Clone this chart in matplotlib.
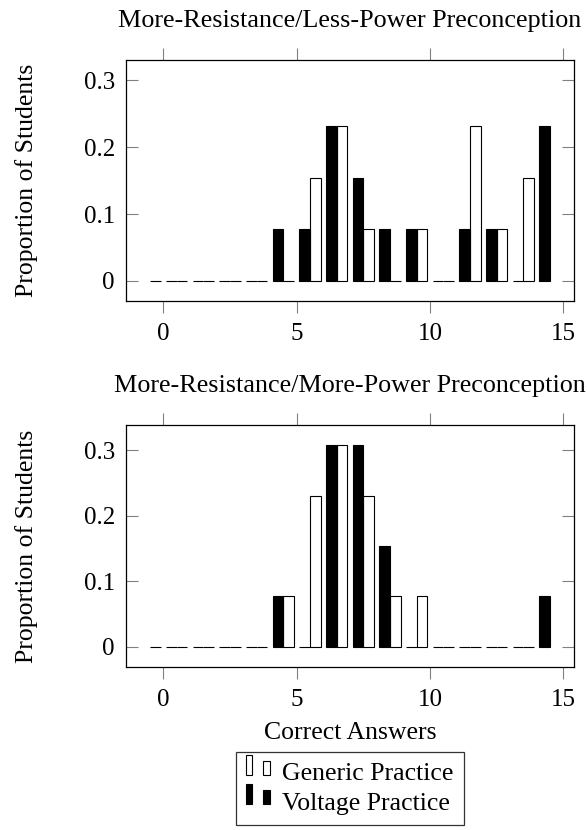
import numpy as np
import matplotlib
matplotlib.use('Agg')
import matplotlib.pyplot as plt
from matplotlib.patches import Rectangle
from matplotlib.legend_handler import HandlerBase

plt.rcParams['font.family'] = ['Liberation Serif', 'DejaVu Serif']

##### Datos (fraccion de estudiantes, n = 13)
answers = np.arange(15)
titles = ['More-Resistance/Less-Power Preconception',
          'More-Resistance/More-Power Preconception']
generic_less = np.array([0, 0, 0, 0, 0, 0, 2, 3, 1, 0, 1, 0, 3, 1, 2]) / 13
voltage_less = np.array([0, 0, 0, 0, 1, 1, 3, 2, 1, 1, 0, 1, 1, 0, 3]) / 13
generic_more = np.array([0, 0, 0, 0, 0, 1, 3, 4, 3, 1, 1, 0, 0, 0, 0]) / 13
voltage_more = np.array([0, 0, 0, 0, 1, 0, 4, 4, 2, 0, 0, 0, 0, 0, 1]) / 13
xticks = [0, 5, 10, 15]
yticks = [0, 0.1, 0.2, 0.3]
yticklabels = ['0', '0.1', '0.2', '0.3']
labels = ['Generic Practice', 'Voltage Practice']
########################################################


class TwoBars(HandlerBase):
    # icono tipo pgfplots ybar legend: dos barras
    def create_artists(self, legend, orig_handle, xdescent, ydescent,
                       width, height, fontsize, trans):
        fc = orig_handle.get_facecolor()
        r1 = Rectangle((-xdescent, -ydescent + 4.0), 4.1, 14.5, facecolor=fc,
                       edgecolor='black', lw=0.8, transform=trans)
        r2 = Rectangle((-xdescent + 12.0, -ydescent + 4.0), 4.8, 10.0, facecolor=fc,
                       edgecolor='black', lw=0.8, transform=trans)
        return [r1, r2]


fig = plt.figure(figsize=(5.87, 8.3), dpi=100)
ax1 = fig.add_axes([0.2147, 0.6373, 0.7632, 0.2904])
ax2 = fig.add_axes([0.2147, 0.1964, 0.7632, 0.2916])

datos = [(ax1, generic_less, voltage_less, titles[0], (-0.03, 0.33)),
         (ax2, generic_more, voltage_more, titles[1], (-0.031, 0.339))]

fs = 18.5
for ax, gen, vol, tit, ylim in datos:
    bg = ax.bar(answers - 0.3, gen, width=0.4, facecolor='white',
                edgecolor='black', linewidth=0.8, label=labels[0])
    bv = ax.bar(answers + 0.3, vol, width=0.4, facecolor='black',
                edgecolor='black', linewidth=0.8, label=labels[1])
    ax.set_xlim(-1.4, 15.4)
    ax.set_ylim(*ylim)
    ax.set_xticks(xticks)
    ax.set_yticks(yticks)
    ax.set_yticklabels(yticklabels)
    ax.tick_params(axis='x', direction='out', top=True, bottom=True,
                   length=8.5, width=0.8, color='gray', labelsize=18, pad=7)
    ax.tick_params(axis='y', direction='in', left=True, right=True,
                   length=8.5, width=0.8, color='gray', labelsize=18, pad=8)
    for s in ax.spines.values():
        s.set_linewidth(0.9)
    ax.set_title(tit, fontsize=18.8, pad=24)
    ax.set_ylabel('Proportion of Students', fontsize=fs, labelpad=33)

ax2.set_xlabel('Correct Answers', fontsize=fs, labelpad=8)

h = [bg.patches[0], bv.patches[0]]
leg = fig.legend(h, labels, handler_map={Rectangle: TwoBars()},
                 loc='upper center', bbox_to_anchor=(0.596, 1 - 752 / 830),
                 borderaxespad=0, fontsize=fs, frameon=True, fancybox=False,
                 edgecolor='black', handlelength=0.95, handletextpad=0.45,
                 borderpad=0.4, labelspacing=0.25)
leg.get_frame().set_linewidth(0.9)

plt.savefig('out.png', dpi=100)
